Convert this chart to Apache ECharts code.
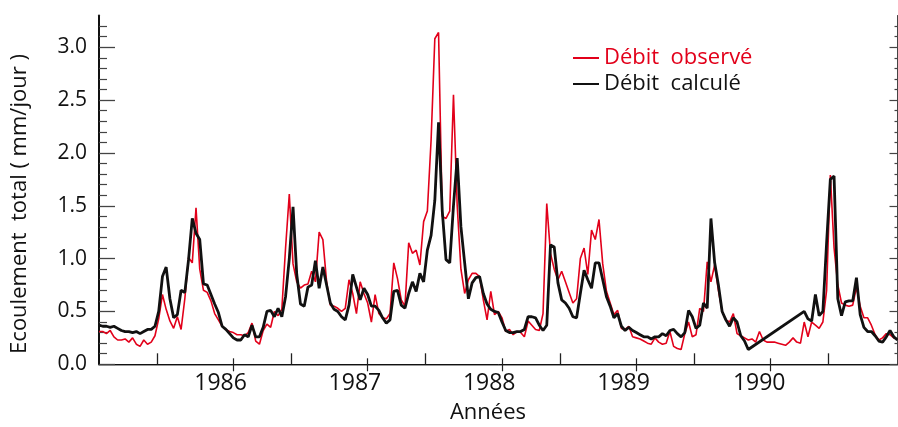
<!DOCTYPE html>
<html>
<head>
<meta charset="utf-8">
<script src="https://cdn.jsdelivr.net/npm/echarts@6/dist/echarts.min.js"></script>
<style>
  html, body { margin: 0; padding: 0; background: #fff; }
  #chart { width: 898px; height: 427px; }
</style>
</head>
<body>
<div id="chart"></div>
<script>
// dekadal series (10-day steps), starting January 1985
const startYear = 1985;
const stepsPerYear = 36;

// observed runoff (mm/jour)
const observed = [
  0.31,0.31,0.29,0.32,0.26,0.23,0.23,0.24,0.21,0.25,
  0.19,0.17,0.23,0.19,0.21,0.27,0.43,0.66,0.52,0.41,
  0.34,0.45,0.33,0.62,1.01,0.96,1.48,0.90,0.70,0.68,
  0.60,0.48,0.42,0.36,0.33,0.31,0.30,0.28,0.28,0.27,
  0.30,0.39,0.22,0.19,0.32,0.38,0.35,0.50,0.46,0.52,
  1.10,1.61,0.95,0.78,0.72,0.75,0.76,0.88,0.78,1.25,
  1.18,0.78,0.56,0.55,0.53,0.50,0.53,0.80,0.67,0.48,
  0.78,0.67,0.58,0.40,0.66,0.48,0.44,0.43,0.48,0.96,
  0.81,0.61,0.55,1.15,1.05,1.08,0.94,1.35,1.45,2.12,
  3.08,3.14,1.40,1.38,1.45,2.55,1.50,0.90,0.67,0.80,
  0.86,0.86,0.83,0.61,0.42,0.69,0.47,0.50,0.44,0.31,
  0.33,0.28,0.31,0.30,0.26,0.41,0.37,0.33,0.32,0.48,
  1.52,1.05,0.90,0.80,0.88,0.78,0.68,0.58,0.62,1.00,
  1.10,0.85,1.27,1.18,1.37,0.95,0.69,0.58,0.47,0.51,
  0.34,0.33,0.36,0.26,0.25,0.24,0.22,0.20,0.19,0.25,
  0.21,0.19,0.20,0.31,0.17,0.15,0.14,0.29,0.40,0.26,
  0.28,0.53,0.50,0.97,0.78,0.94,0.70,0.50,0.42,0.40,
  0.48,0.29,0.27,0.25,0.23,0.24,0.21,0.31,0.23,0.21,
  0.21,0.21,0.20,0.19,0.18,0.21,0.25,0.21,0.20,0.40,
  0.26,0.40,0.37,0.34,0.40,0.70,1.79,1.10,0.75,0.58,
  0.56,0.55,0.56,0.73,0.55,0.44,0.44,0.37,0.28,0.23,
  0.25,0.29,0.28,0.25,0.24
];

// computed runoff (mm/jour); null = missing
const computed = [
  0.37,0.36,0.36,0.35,0.36,0.34,0.32,0.31,0.31,0.30,
  0.31,0.29,0.31,0.33,0.33,0.36,0.50,0.83,0.92,0.62,
  0.44,0.47,0.70,0.68,0.99,1.38,1.24,1.18,0.76,0.75,
  0.66,0.57,0.49,0.36,0.33,0.29,0.25,0.23,0.23,0.28,
  0.26,0.37,0.26,0.26,0.35,0.50,0.51,0.45,0.53,0.45,
  0.64,1.00,1.49,0.85,0.57,0.55,0.73,0.75,0.98,0.72,
  0.92,0.75,0.58,0.52,0.50,0.45,0.42,0.56,0.85,0.73,
  0.61,0.72,0.66,0.55,0.55,0.51,0.44,0.39,0.42,0.69,
  0.70,0.56,0.53,0.67,0.78,0.69,0.86,0.78,1.08,1.22,
  1.55,2.29,1.45,0.99,0.96,1.50,1.95,1.30,0.96,0.62,
  0.77,0.82,0.83,0.67,0.57,0.52,0.50,0.49,0.40,0.32,
  0.30,0.30,0.31,0.31,0.33,0.45,0.45,0.44,0.37,0.32,
  0.37,1.13,1.11,0.77,0.61,0.58,0.53,0.45,0.44,0.67,
  0.89,0.80,0.72,0.96,0.96,0.80,0.64,0.55,0.44,0.48,
  0.36,0.32,0.35,0.32,0.30,0.28,0.26,0.26,0.24,0.26,
  0.26,0.29,0.27,0.32,0.33,0.29,0.26,0.30,0.51,0.45,
  0.34,0.37,0.58,0.53,1.38,0.96,0.75,0.50,0.42,0.36,
  0.44,0.40,0.27,0.22,0.14,null,null,null,null,null,
  null,null,null,null,null,null,null,null,null,0.50,
  0.43,0.41,0.66,0.46,0.50,1.15,1.75,1.78,0.62,0.46,
  0.59,0.60,0.60,0.82,0.47,0.35,0.31,0.31,0.27,0.22,
  0.21,0.26,0.32,0.26,0.23
];

const yearLabels = [1986, 1987, 1988, 1989, 1990];
const yearBoundaries = [1986, 1987, 1988, 1989, 1990];
const longTickYears = [1985.432, 1986.432, 1987.432, 1988.432, 1989.432, 1990.432];
const labelPositions = [1985.905, 1986.905, 1987.905, 1988.905, 1989.915];
const yMajorTicks = [0, 0.5, 1.0, 1.5, 2.0, 2.5, 3.0];
const yMinorTicks = [0.1,0.2,0.3,0.4,0.6,0.7,0.8,0.9,1.1,1.2,1.3,1.4,1.6,1.7,1.8,1.9,
                     2.1,2.2,2.3,2.4,2.6,2.7,2.8,2.9,3.1,3.2];

const seriesObs = 'Débit  observé';
const seriesCalc = 'Débit  calculé';
const xTitle = 'Années';
const yTitle = 'Ecoulement  total ( mm/jour )';

const FONT = '"Open Sans", "Noto Sans", sans-serif';
const RED = '#e2001a';
const BLACK = '#111111';

const toPairs = arr => arr.map((v, i) => [startYear + i / stepsPerYear, v]);
const xMin = startYear;
const xMax = startYear + (observed.length - 1) / stepsPerYear;

const chart = echarts.init(document.getElementById('chart'), null, { renderer: 'canvas' });

const hiddenX = (pos, ticks, len) => ({
  type: 'value', min: xMin, max: xMax, position: pos,
  axisLine: { show: false },
  axisTick: { show: true, inside: true, length: len, customValues: ticks,
              lineStyle: { color: '#222', width: 1.2 } },
  axisLabel: { show: false },
  splitLine: { show: false }
});
const hiddenY = (pos, ticks, len) => ({
  type: 'value', min: 0, max: 3.3, position: pos,
  axisLine: { show: false },
  axisTick: { show: true, inside: true, length: len, customValues: ticks,
              lineStyle: { color: '#444', width: 1.2 } },
  axisLabel: { show: false },
  splitLine: { show: false }
});

chart.setOption({
  animation: false,
  backgroundColor: '#ffffff',
  grid: { left: 99, top: 15.5, width: 798.5, height: 348.8, containLabel: false },
  legend: {
    orient: 'vertical', left: 572, top: 47, padding: 0,
    itemWidth: 26, itemHeight: 2, itemGap: 4,
    selectedMode: false,
    textStyle: { fontFamily: FONT, fontSize: 22 },
    data: [
      { name: seriesObs, textStyle: { color: RED } },
      { name: seriesCalc, textStyle: { color: BLACK } }
    ]
  },
  xAxis: [
    {
      type: 'value', min: xMin, max: xMax, position: 'bottom',
      axisLine: { show: true, lineStyle: { color: '#777', width: 1.5 } },
      axisTick: { show: true, inside: true, length: 11, customValues: longTickYears,
                  lineStyle: { color: '#222', width: 1.3 } },
      axisLabel: {
        customValues: labelPositions,
        formatter: v => String(yearLabels[labelPositions.indexOf(v)] ?? Math.round(v)),
        fontFamily: FONT, fontSize: 23, color: '#111', margin: 8
      },
      splitLine: { show: false }
    },
    hiddenX('bottom', yearBoundaries, 6),
    Object.assign(hiddenX('top', yearBoundaries, 7), {
      axisLine: { show: true, lineStyle: { color: '#111', width: 1 } }
    })
  ],
  yAxis: [
    {
      type: 'value', min: 0, max: 3.3, position: 'left',
      axisLine: { show: true, lineStyle: { color: '#111', width: 2 } },
      axisTick: { show: true, inside: true, length: 16, customValues: yMajorTicks,
                  lineStyle: { color: '#444', width: 1.3 } },
      axisLabel: {
        customValues: yMajorTicks,
        formatter: v => v.toFixed(1),
        fontFamily: FONT, fontSize: 21, color: '#111', margin: 12
      },
      splitLine: { show: false }
    },
    hiddenY('left', yMinorTicks, 8),
    Object.assign(hiddenY('right', yMajorTicks, 8), {
      axisLine: { show: true, lineStyle: { color: '#444', width: 1 } }
    }),
    hiddenY('right', yMinorTicks, 3)
  ],
  series: [
    {
      name: seriesObs, type: 'line', xAxisIndex: 0, yAxisIndex: 0,
      data: toPairs(observed), symbol: 'none', showSymbol: false,
      lineStyle: { color: RED, width: 1.6 }, itemStyle: { color: RED },
      z: 2
    },
    {
      name: seriesCalc, type: 'line', xAxisIndex: 0, yAxisIndex: 0,
      data: toPairs(computed), symbol: 'none', showSymbol: false, connectNulls: true,
      lineStyle: { color: BLACK, width: 2.8 }, itemStyle: { color: BLACK },
      z: 3
    }
  ],
  graphic: [
    {
      type: 'text', x: 488, y: 413,
      style: { text: xTitle, font: '22px ' + FONT, fill: '#111',
               textAlign: 'center', textVerticalAlign: 'middle' }
    },
    {
      type: 'text', x: 20, y: 204, rotation: Math.PI / 2,
      style: { text: yTitle, font: '22px ' + FONT, fill: '#111',
               textAlign: 'center', textVerticalAlign: 'middle' }
    }
  ]
});
</script>
</body>
</html>
